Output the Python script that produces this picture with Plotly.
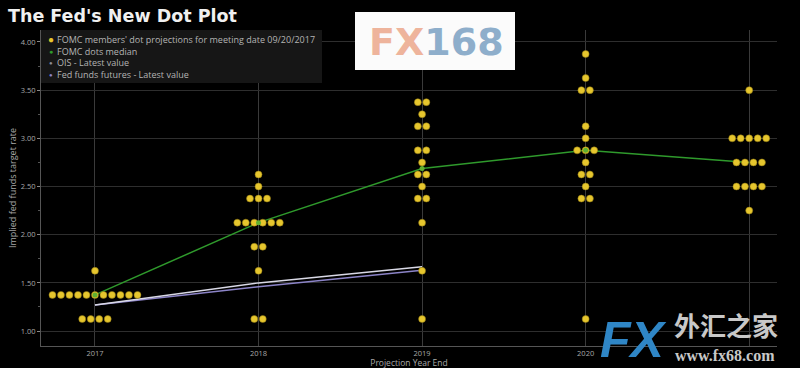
import plotly.graph_objects as go

# ---- data ----
years = [2017, 2018, 2019, 2020, 2021]
# dot rows: (year, rate, number of dots)
dot_years = [2017, 2017, 2017,
             2018, 2018, 2018, 2018, 2018, 2018, 2018,
             2019, 2019, 2019, 2019, 2019, 2019, 2019, 2019, 2019, 2019, 2019,
             2020, 2020, 2020, 2020, 2020, 2020, 2020, 2020, 2020, 2020, 2020,
             2021, 2021, 2021, 2021, 2021]
dot_rates = [1.625, 1.375, 1.125,
             2.625, 2.5, 2.375, 2.125, 1.875, 1.625, 1.125,
             3.375, 3.25, 3.125, 2.875, 2.75, 2.625, 2.5, 2.375, 2.125, 1.625, 1.125,
             3.875, 3.625, 3.5, 3.125, 3.0, 2.875, 2.75, 2.625, 2.5, 2.375, 1.125,
             3.5, 3.0, 2.75, 2.5, 2.25]
dot_counts = [1, 11, 4,
              1, 1, 3, 6, 2, 1, 2,
              2, 1, 2, 2, 1, 2, 1, 2, 1, 1, 1,
              1, 1, 2, 1, 1, 3, 1, 2, 1, 2, 1,
              1, 5, 4, 4, 1]
median_rates = [1.375, 2.125, 2.6875, 2.875, 2.75]
ois_years = [2017, 2018, 2019]
ois_rates = [1.27, 1.50, 1.667]
fff_years = [2017, 2018, 2019]
fff_rates = [1.27, 1.46, 1.63]
tick_labels = ["2017", "2018", "2019", "2020", ""]
legend_names = ["FOMC members' dot projections for meeting date 09/20/2017",
                "FOMC dots median",
                "OIS - Latest value",
                "Fed funds futures - Latest value"]

# expand stacked dots sideways
spacing = 0.052
dx, dy = [], []
for yr, rt, n in zip(dot_years, dot_rates, dot_counts):
    for i in range(n):
        dx.append(yr + (i - (n - 1) / 2) * spacing)
        dy.append(rt)

YELLOW = "#e6c62e"
GREEN = "#2f9a2c"
OIS_C = "#d9d9e6"
FFF_C = "#8c84c8"
GRID = "#2e2e2e"
TXT = "#a8a8a8"

L, R, T, B = 41, 777, 30, 346
W, H = R - L, B - T


def px(x):
    return (x - L) / W


def py(y):
    return (B - y) / H


fig = go.Figure()
fig.add_trace(go.Scatter(x=fff_years, y=fff_rates, mode="lines",
                         line=dict(color=FFF_C, width=1.5), showlegend=False))
fig.add_trace(go.Scatter(x=ois_years, y=ois_rates, mode="lines",
                         line=dict(color=OIS_C, width=1.5), showlegend=False))
fig.add_trace(go.Scatter(x=years, y=median_rates, mode="lines",
                         line=dict(color=GREEN, width=1.5), showlegend=False))
fig.add_trace(go.Scatter(x=dx, y=dy, mode="markers",
                         marker=dict(color=YELLOW, size=7,
                                     line=dict(color="#8a7410", width=0.5)),
                         showlegend=False))
fig.add_trace(go.Scatter(x=years[:4], y=median_rates[:4], mode="markers",
                         marker=dict(color="#5fb030", size=5), showlegend=False))

fig.update_layout(
    width=800, height=368,
    paper_bgcolor="#000000", plot_bgcolor="#000000",
    margin=dict(l=L, r=800 - R, t=T, b=368 - B),
    showlegend=False,
    font=dict(family="Open Sans, sans-serif", color=TXT, size=8),
    title=dict(text="<b>The Fed's New Dot Plot</b>", x=0.01, xref="container",
               xanchor="left", y=1 - 16 / 368, yref="container", yanchor="middle",
               font=dict(family="DejaVu Sans", size=17.5, color="#f0f0f0")),
    xaxis=dict(range=[2016.67, 2021.17], tickvals=years, ticktext=tick_labels,
               showgrid=True, gridcolor="#3a3a3a", gridwidth=1,
               zeroline=False, showline=True, linecolor="#555555",
               ticks="", tickfont=dict(size=7.5, color=TXT), automargin=False,
               title=dict(text="Projection Year End", standoff=0,
                          font=dict(size=8.5, color=TXT))),
    yaxis=dict(range=[0.845, 4.124], tickvals=[1, 1.5, 2, 2.5, 3, 3.5, 4],
               tickformat=".2f", showgrid=True, gridcolor=GRID, gridwidth=1,
               zeroline=False, showline=True, linecolor="#555555",
               ticks="outside", ticklen=3, tickcolor="#888888",
               minor=dict(tickvals=[1.25, 1.75, 2.25, 2.75, 3.25, 3.75],
                          ticks="outside", ticklen=2, tickcolor="#555555",
                          showgrid=False),
               tickfont=dict(size=7.5, color=TXT), automargin=False,
               title=dict(text="Implied fed funds target rate", standoff=2,
                          font=dict(size=9, color=TXT))),
)

# legend box drawn manually (tight line spacing like the reference)
fig.add_shape(type="rect", xref="paper", yref="paper",
              x0=px(41), x1=px(322), y0=py(83), y1=py(30),
              fillcolor="#161616", line=dict(width=0), layer="above")
leg_colors = [YELLOW, GREEN, "#8c8c96", FFF_C]
leg_sizes = [10, 7, 6, 6]
line_h = 9 * 1.3
for i, (c, s) in enumerate(zip(leg_colors, leg_sizes)):
    yc = 57 + (i - 1.5) * line_h
    fig.add_annotation(xref="paper", yref="paper", x=px(51), y=py(yc),
                       text="●", showarrow=False, xanchor="center", yanchor="middle",
                       font=dict(size=s, color=c))
fig.add_annotation(xref="paper", yref="paper", x=px(55), y=py(57),
                   text="<br>".join(legend_names), showarrow=False,
                   xanchor="left", yanchor="middle", align="left",
                   font=dict(size=9, color="#b4b4b4"))

# watermark logos
fig.add_shape(type="rect", xref="paper", yref="paper",
              x0=px(355), x1=px(515), y0=py(70), y1=py(12),
              fillcolor="#fbfbfb", line=dict(width=0), layer="above")
fig.add_annotation(xref="paper", yref="paper", x=px(436), y=py(42),
                   xanchor="center", yanchor="middle",
                   text="<b><span style='color:#eeb49c'>FX</span>"
                        "<span style='color:#8eaecb'>168</span></b>",
                   showarrow=False, font=dict(family="DejaVu Sans", size=38))
fig.add_annotation(xref="paper", yref="paper", x=px(669), y=py(340),
                   xanchor="right", yanchor="middle",
                   text="<b><i>FX</i></b>", showarrow=False,
                   font=dict(family="Liberation Sans", size=50, color="#2f86c6"))
fig.add_annotation(xref="paper", yref="paper", x=px(672), y=py(324),
                   xanchor="left", yanchor="middle",
                   text="<b>外汇之家</b>", showarrow=False,
                   font=dict(family="Noto Sans CJK SC", size=26, color="#c8c8c8"))
fig.add_annotation(xref="paper", yref="paper", x=px(673), y=py(355),
                   xanchor="left", yanchor="middle",
                   text="<b>www.fx68.com</b>", showarrow=False,
                   font=dict(family="Liberation Serif", size=16, color="#c8c8c8"))

fig.write_html("out.html", post_script="document.body.style.margin='0';",
               config={"displayModeBar": False})
